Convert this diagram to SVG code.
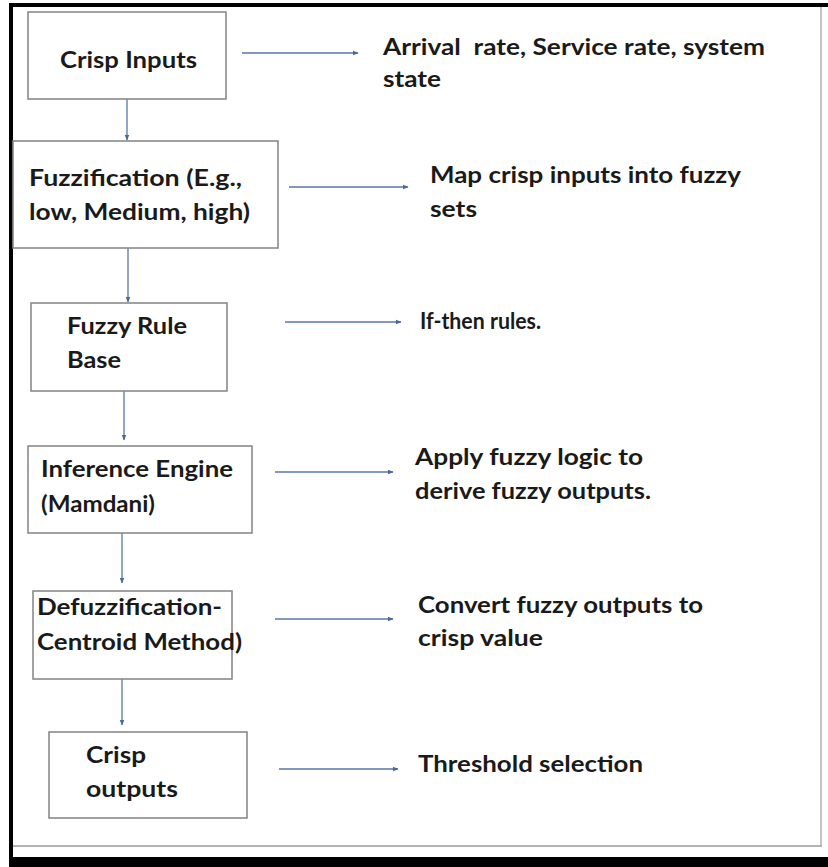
<svg xmlns="http://www.w3.org/2000/svg" width="828" height="867" viewBox="0 0 828 867">
<style>
.box{fill:#ffffff;stroke:#8a8a8a;stroke-width:1.6}
.t{font-family:Lato,"Open Sans","Liberation Sans",sans-serif;font-weight:bold;font-size:23px;fill:#1a1a1a;white-space:pre}
.c{stroke:#5a76a8;stroke-width:1.3;fill:none}
</style>
<defs>
<marker id="ah" viewBox="0 0 10 10" refX="9" refY="5" markerWidth="6" markerHeight="6" markerUnits="userSpaceOnUse" orient="auto">
<path d="M0,1 L10,5 L0,9 Z" fill="#4a679c"/>
</marker>
</defs>
<rect x="0" y="0" width="828" height="867" fill="#ffffff"/>
<g id="frame">
<rect x="10" y="3" width="818" height="4" fill="#000"/>
<rect x="9" y="3" width="4" height="864" fill="#000"/>
<rect x="9" y="857" width="819" height="10" fill="#000"/>
<line x1="13" y1="846" x2="822" y2="846" stroke="#9a9a9a" stroke-width="1.5"/>
<line x1="821" y1="7" x2="821" y2="846" stroke="#b0b0b0" stroke-width="1.5"/>
</g>
<g id="connectors">
<line class="c" x1="127" y1="99" x2="127" y2="140" marker-end="url(#ah)"/>
<line class="c" x1="128" y1="248" x2="128" y2="302" marker-end="url(#ah)"/>
<line class="c" x1="124" y1="391" x2="124" y2="440" marker-end="url(#ah)"/>
<line class="c" x1="122" y1="533" x2="122" y2="583" marker-end="url(#ah)"/>
<line class="c" x1="122" y1="679" x2="122" y2="725" marker-end="url(#ah)"/>
<line class="c" x1="242" y1="53" x2="358" y2="53" marker-end="url(#ah)"/>
<line class="c" x1="289" y1="187" x2="408" y2="187" marker-end="url(#ah)"/>
<line class="c" x1="285" y1="322" x2="401" y2="322" marker-end="url(#ah)"/>
<line class="c" x1="275" y1="472" x2="393" y2="472" marker-end="url(#ah)"/>
<line class="c" x1="275" y1="619" x2="393" y2="619" marker-end="url(#ah)"/>
<line class="c" x1="279" y1="769" x2="398" y2="769" marker-end="url(#ah)"/>
</g>
<g id="crisp-inputs">
<rect class="box" x="28" y="12" width="198" height="87"/>
<text class="t" x="60" y="68" textLength="137" lengthAdjust="spacingAndGlyphs">Crisp Inputs</text>
</g>
<g id="crisp-inputs-note">
<text class="t" x="383" y="55" textLength="382" lengthAdjust="spacingAndGlyphs">Arrival  rate, Service rate, system</text>
<text class="t" x="383" y="87" textLength="58" lengthAdjust="spacingAndGlyphs">state</text>
</g>
<g id="fuzzification">
<rect class="box" x="13" y="141" width="265" height="107"/>
<text class="t" x="29" y="186" textLength="213" lengthAdjust="spacingAndGlyphs">Fuzzification (E.g.,</text>
<text class="t" x="29" y="220" textLength="221" lengthAdjust="spacingAndGlyphs">low, Medium, high)</text>
</g>
<g id="fuzzification-note">
<text class="t" x="430" y="183" textLength="311" lengthAdjust="spacingAndGlyphs">Map crisp inputs into fuzzy</text>
<text class="t" x="430" y="217" textLength="47" lengthAdjust="spacingAndGlyphs">sets</text>
</g>
<g id="rule-base">
<rect class="box" x="31" y="303" width="196" height="88"/>
<text class="t" x="67" y="334" textLength="120" lengthAdjust="spacingAndGlyphs">Fuzzy Rule</text>
<text class="t" x="67" y="368" textLength="54" lengthAdjust="spacingAndGlyphs">Base</text>
</g>
<g id="rule-base-note">
<text class="t" x="420" y="329" textLength="121" lengthAdjust="spacingAndGlyphs">If-then rules.</text>
</g>
<g id="inference">
<rect class="box" x="28" y="446" width="224" height="87"/>
<text class="t" x="41" y="477" textLength="192" lengthAdjust="spacingAndGlyphs">Inference Engine</text>
<text class="t" x="41" y="512" textLength="114" lengthAdjust="spacingAndGlyphs">(Mamdani)</text>
</g>
<g id="inference-note">
<text class="t" x="415" y="465" textLength="228" lengthAdjust="spacingAndGlyphs">Apply fuzzy logic to</text>
<text class="t" x="415" y="499" textLength="236" lengthAdjust="spacingAndGlyphs">derive fuzzy outputs.</text>
</g>
<g id="defuzzification">
<rect class="box" x="33" y="591" width="199" height="88"/>
<text class="t" x="37" y="615" textLength="185" lengthAdjust="spacingAndGlyphs">Defuzzification-</text>
<text class="t" x="37" y="650" textLength="205" lengthAdjust="spacingAndGlyphs">Centroid Method)</text>
</g>
<g id="defuzzification-note">
<text class="t" x="418" y="613" textLength="285" lengthAdjust="spacingAndGlyphs">Convert fuzzy outputs to</text>
<text class="t" x="418" y="646" textLength="125" lengthAdjust="spacingAndGlyphs">crisp value</text>
</g>
<g id="crisp-outputs">
<rect class="box" x="49" y="732" width="198" height="86"/>
<text class="t" x="86" y="763" textLength="60" lengthAdjust="spacingAndGlyphs">Crisp</text>
<text class="t" x="86" y="797" textLength="92" lengthAdjust="spacingAndGlyphs">outputs</text>
</g>
<g id="crisp-outputs-note">
<text class="t" x="418" y="772" textLength="225" lengthAdjust="spacingAndGlyphs">Threshold selection</text>
</g>
</svg>
